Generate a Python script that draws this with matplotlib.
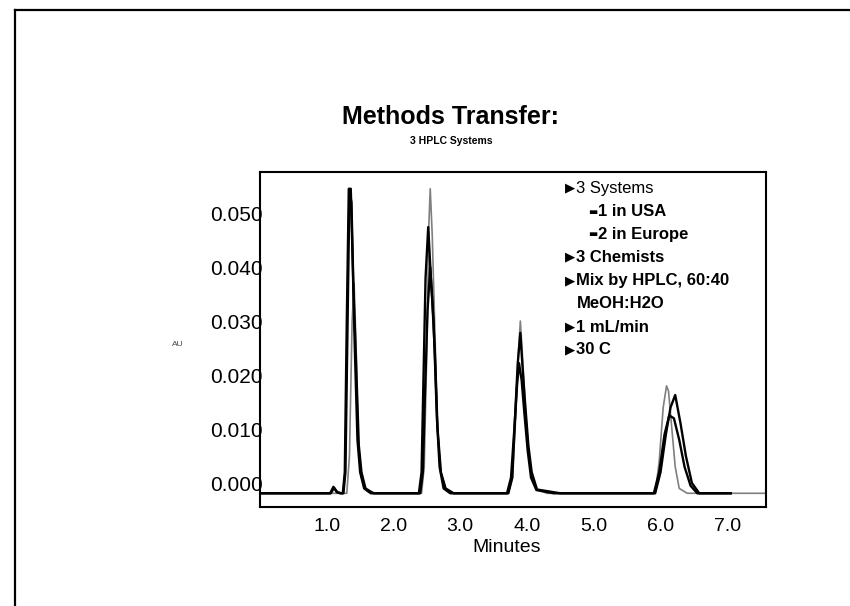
import matplotlib.pyplot as plt
from matplotlib.lines import Line2D
from matplotlib.ticker import FormatStrFormatter

# three overlaid chromatograms (minutes, AU), vertices
gray_t = [0.0, 1.30, 1.34, 1.38, 1.41, 1.44, 1.47, 1.52, 1.60, 1.75,
          2.42, 2.46, 2.50, 2.53, 2.55, 2.58, 2.62, 2.66, 2.71, 2.78, 2.90,
          3.72, 3.78, 3.83, 3.87, 3.90, 3.93, 3.97, 4.02, 4.07, 4.15, 4.30,
          5.92, 5.98, 6.04, 6.09, 6.12, 6.17, 6.22, 6.28, 6.40, 7.58]
gray_au = [-0.0019, -0.0019, 0.005, 0.030, 0.037, 0.025, 0.008, 0.001, -0.0015, -0.0019,
           -0.0019, 0.003, 0.025, 0.048, 0.0545, 0.046, 0.028, 0.010, 0.002, -0.001, -0.0019,
           -0.0019, 0.001, 0.012, 0.024, 0.030, 0.024, 0.015, 0.006, 0.001, -0.0012, -0.0019,
           -0.0019, 0.004, 0.014, 0.018, 0.017, 0.010, 0.003, -0.001, -0.0019, -0.0019]

blk1_t = [0.0, 1.05, 1.10, 1.15, 1.20, 1.24, 1.27, 1.30, 1.33, 1.36, 1.39, 1.42, 1.46, 1.50, 1.56, 1.66,
          2.38, 2.42, 2.45, 2.48, 2.52, 2.56, 2.60, 2.65, 2.69, 2.75, 2.85,
          3.72, 3.78, 3.82, 3.86, 3.90, 3.93, 3.97, 4.02, 4.07, 4.15, 4.50,
          5.92, 6.00, 6.08, 6.15, 6.22, 6.30, 6.38, 6.47, 6.58, 7.05]
blk1_au = [-0.0019, -0.0019, -0.0007, -0.0017, -0.0019, -0.0019, 0.002, 0.030, 0.0545, 0.0545, 0.040, 0.025, 0.008, 0.002, -0.001, -0.0019,
           -0.0019, 0.002, 0.020, 0.038, 0.0474, 0.038, 0.030, 0.012, 0.003, -0.001, -0.0019,
           -0.0019, 0.001, 0.012, 0.022, 0.0278, 0.022, 0.015, 0.007, 0.002, -0.0012, -0.0019,
           -0.0019, 0.002, 0.009, 0.014, 0.0163, 0.011, 0.005, 0.000, -0.0019, -0.0019]

blk2_t = [0.0, 1.06, 1.11, 1.16, 1.22, 1.25, 1.28, 1.31, 1.34, 1.37, 1.40, 1.44, 1.48, 1.52, 1.58, 1.70,
          2.40, 2.44, 2.47, 2.51, 2.55, 2.58, 2.62, 2.66, 2.71, 2.78, 2.90,
          3.70, 3.76, 3.81, 3.85, 3.88, 3.92, 3.96, 4.01, 4.06, 4.14, 4.40,
          5.90, 5.98, 6.06, 6.13, 6.20, 6.28, 6.36, 6.45, 6.55, 7.05]
blk2_au = [-0.0019, -0.0019, -0.0009, -0.0017, -0.0019, -0.0019, 0.002, 0.028, 0.054, 0.052, 0.036, 0.022, 0.007, 0.002, -0.001, -0.0019,
           -0.0019, 0.002, 0.016, 0.032, 0.040, 0.034, 0.024, 0.010, 0.002, -0.001, -0.0019,
           -0.0019, 0.001, 0.010, 0.018, 0.0222, 0.019, 0.013, 0.006, 0.001, -0.0013, -0.0019,
           -0.0019, 0.002, 0.009, 0.0125, 0.012, 0.008, 0.003, -0.0005, -0.0019, -0.0019]

y_ticks = [0.0, 0.01, 0.02, 0.03, 0.04, 0.05]
x_ticks = [1.0, 2.0, 3.0, 4.0, 5.0, 6.0, 7.0]

ARROW, BAR = "\u25b6", "\u25ac"
# (x px, y px, bullet, text, weight)
notes = [
    (565, 188, ARROW, "3 Systems", "normal"),
    (588, 212, BAR, "1 in USA", "bold"),
    (588, 234, BAR, "2 in Europe", "bold"),
    (565, 257, ARROW, "3 Chemists", "bold"),
    (565, 281, ARROW, "Mix by HPLC, 60:40", "bold"),
    (577, 304, "", "MeOH:H2O", "bold"),
    (565, 327, ARROW, "1 mL/min", "bold"),
    (565, 350, ARROW, "30 C", "bold"),
]

W, H = 850, 606
fam = ["DejaVu Sans"]
plt.rcParams["font.family"] = ["Liberation Sans", "DejaVu Sans"]

fig = plt.figure(figsize=(W / 100, H / 100), dpi=100)


def px(x, y):
    return x / W, 1 - y / H


# page frame (only top and left edges are visible)
fig.add_artist(Line2D([15 / W, 1.0], [1 - 10 / H] * 2, color="black", lw=1.6, transform=fig.transFigure))
fig.add_artist(Line2D([15 / W] * 2, [1 - 10 / H, 0.0], color="black", lw=1.6, transform=fig.transFigure))

ax = fig.add_axes([260 / W, 1 - 507 / H, 506 / W, 335 / H])
ax.plot(gray_t, gray_au, color="#7f7f7f", lw=1.2)
ax.plot(blk2_t, blk2_au, color="black", lw=1.7)
ax.plot(blk1_t, blk1_au, color="black", lw=1.7)

ax.set_xlim(0, 7.58)
ax.set_ylim(-0.00444, 0.0576)
ax.set_xticks(x_ticks)
ax.set_yticks(y_ticks)
ax.yaxis.set_major_formatter(FormatStrFormatter("%.3f"))
ax.xaxis.set_major_formatter(FormatStrFormatter("%.1f"))
ax.tick_params(axis="y", length=0, pad=-2, labelsize=15)
ax.tick_params(axis="x", length=0, pad=8, labelsize=14)
for s in ax.spines.values():
    s.set_linewidth(1.5)

x, y = px(507, 548)
fig.text(x, y, "Minutes", ha="center", va="center", fontsize=14)
x, y = px(178, 345)
fig.text(x, y, "AU", ha="center", va="center", fontsize=6, color="#444444")

x, y = px(450, 117)
fig.text(x, y, "Methods Transfer:", ha="center", va="center", fontsize=18, fontweight="bold")
x, y = px(451, 141)
fig.text(x, y, "3 HPLC Systems", ha="center", va="center", fontsize=7.5, fontweight="bold")

for nx, ny, mark, label, weight in notes:
    tx = nx
    if mark == ARROW:
        x, y = px(nx, ny)
        fig.text(x, y, mark, ha="left", va="center", fontsize=9.5, family=fam)
        tx = nx + 11
    elif mark:
        x, y = px(nx, ny)
        fig.text(x, y, mark, ha="left", va="center", fontsize=7, family=fam)
        tx = nx + 10
    x, y = px(tx, ny)
    fig.text(x, y, label, ha="left", va="center", fontsize=12, fontweight=weight)

fig.savefig("out.png", dpi=100)
